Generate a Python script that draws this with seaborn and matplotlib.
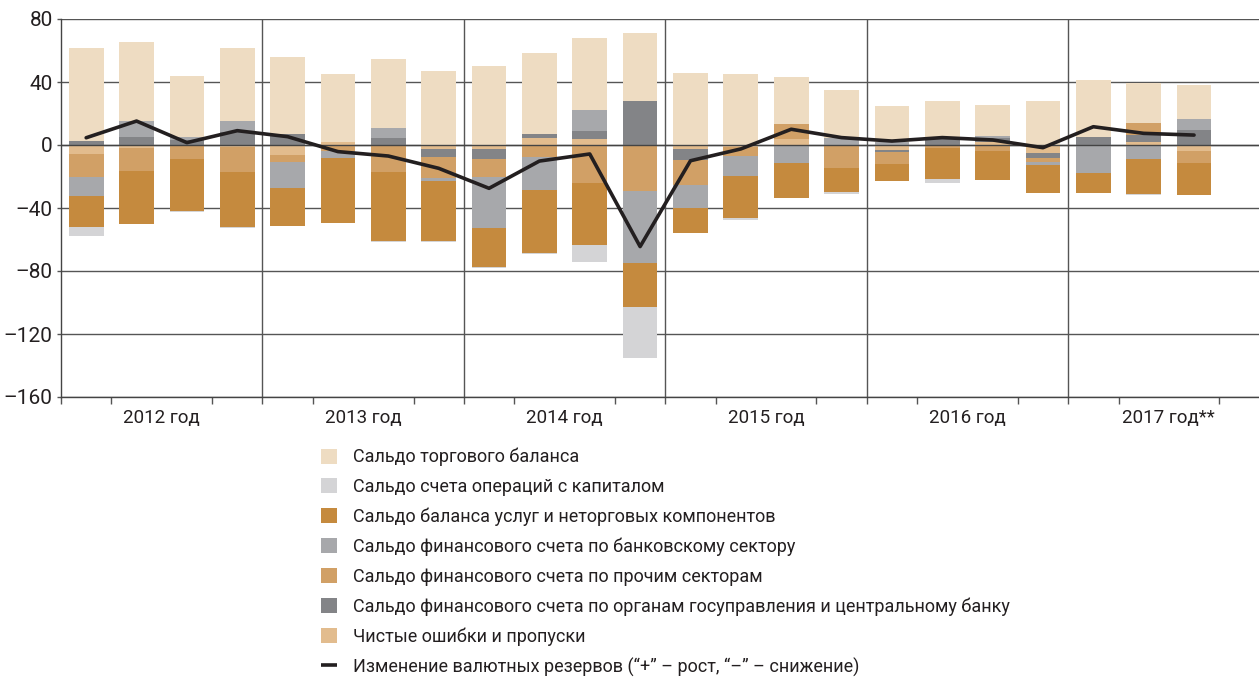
import matplotlib
matplotlib.use("Agg")
import matplotlib.pyplot as plt
from matplotlib.patches import Patch
from matplotlib.lines import Line2D
import numpy as np
import pandas as pd
import seaborn as sns

# quarters 2012 Q1 ... 2017 Q3, billions of US dollars
years = ["2012 год", "2013 год", "2014 год", "2015 год", "2016 год", "2017 год**"]
quarters = list(range(23))

trade = [59.3, 49.9, 38.8, 46.6, 49.1, 43.3, 44.0, 46.8, 50.4, 51.4, 45.9, 43.0,
         45.9, 45.1, 29.7, 30.7, 22.7, 22.6, 19.5, 27.9, 36.0, 25.8, 21.6]
capital = [-5.7, 0, -0.8, -0.8, 0, 0, -0.8, -0.8, -0.8, -0.6, -10.6, -32.3,
           0, -0.9, 0, -1.0, 0, -2.1, 0, 0, 0, -0.9, 0]
services = [-19.5, -33.9, -32.6, -35.0, -23.9, -41.3, -43.9, -38.1, -24.3, -39.8, -39.6, -28.0,
            -15.9, -27.1, -21.8, -15.6, -10.3, -19.7, -18.6, -17.6, -12.7, -22.2, -20.1]
bank = [-12.3, 10.4, 2.0, 6.7, -16.5, -4.4, 6.4, -2.2, -32.8, -21.2, 13.3, -45.5,
        -14.8, -12.7, -11.6, 4.2, 2.1, 0, 1.7, -2.1, -17.6, -8.9, 7.0]
other = [-14.2, -14.4, -9.1, -15.4, -4.5, -3.6, -17.1, -13.1, -11.2, -7.4, -23.9, -29.2,
         -15.9, -5.8, 9.7, -14.4, -7.6, -2.1, -3.8, -2.6, 0, 7.5, -7.8]
gov = [2.5, 5.1, 3.0, 8.5, 7.0, 0, 4.2, -4.8, -6.1, 2.1, 5.3, 27.9,
       -6.7, 0, 0, 0, -1.5, 5.3, 2.5, -2.7, 5.3, 4.2, 9.5]
errors = [-5.9, -2.1, 0, -1.5, -6.3, 1.7, 0, -2.8, -2.8, 4.7, 3.6, 0,
          -2.8, -1.0, 3.6, 0, -3.2, 0, 1.7, -5.3, 0, 2.1, -3.8]
reserves = [4.6, 15.2, 1.5, 9.1, 5.3, -4.2, -7.0, -14.8, -27.5, -10.2, -5.7, -64.5,
            -10.0, -2.5, 10.0, 4.7, 2.5, 4.7, 3.2, -1.7, 11.6, 7.4, 6.3]

labels = {
    "trade": "Сальдо торгового баланса",
    "capital": "Сальдо счета операций с капиталом",
    "services": "Сальдо баланса услуг и неторговых компонентов",
    "bank": "Сальдо финансового счета по банковскому сектору",
    "other": "Сальдо финансового счета по прочим секторам",
    "gov": "Сальдо финансового счета по органам госуправления и центральному банку",
    "errors": "Чистые ошибки и пропуски",
}
line_label = "Изменение валютных резервов (“+” – рост, “–” – снижение)"
colors = {
    "trade": "#EEDCC2",
    "capital": "#D4D4D6",
    "services": "#C58A3E",
    "bank": "#A7A8AB",
    "other": "#D1A066",
    "gov": "#838487",
    "errors": "#E2BC8E",
}
legend_order = ["trade", "capital", "services", "bank", "other", "gov", "errors"]
# order of stacking away from zero
stack_order = [("errors", errors), ("gov", gov), ("other", other), ("bank", bank),
               ("services", services), ("capital", capital), ("trade", trade)]

sns.set_theme(style="white")
plt.rcParams["font.family"] = ["Roboto", "DejaVu Sans"]
plt.rcParams["text.color"] = "#231f20"

fig = plt.figure(figsize=(12.59, 6.78), dpi=100)
ax = fig.add_axes([61 / 1259, 1 - 397 / 678, 1 - 61 / 1259, (397 - 19) / 678])

pos = np.zeros(len(quarters))
neg = np.zeros(len(quarters))
for name, vals in stack_order:
    v = np.array(vals, dtype=float)
    bottom = np.where(v >= 0, pos, neg)
    df = pd.DataFrame({"q": quarters, "v": v})
    sns.barplot(data=df, x="q", y="v", bottom=bottom, color=colors[name], width=0.69,
                linewidth=0, saturation=1, errorbar=None, ax=ax, zorder=2)
    pos += np.where(v > 0, v, 0)
    neg += np.where(v < 0, v, 0)

sns.lineplot(x=quarters, y=reserves, color="#231f20", lw=2.6, ax=ax, zorder=5)

ax.axhline(0, color="#444444", lw=1, zorder=3)
for b in [3.5, 7.5, 11.5, 15.5, 19.5]:
    ax.axvline(b, color="#555555", lw=1, zorder=1)

ax.set_xlim(-0.5, 23.29)
ax.set_ylim(-160, 80)
ax.set_yticks(range(-160, 81, 40))
ax.set_yticklabels([str(t).replace("-", "–") for t in range(-160, 81, 40)], fontsize=15)
ax.set_xticks([1.5, 5.5, 9.5, 13.5, 17.5, 21.5])
ax.set_xticklabels(years, fontsize=13.5)
ax.set_xticks(np.arange(-0.5, 23.0, 1), minor=True)
ax.tick_params(axis="x", which="major", length=0, pad=9, colors="#231f20")
ax.tick_params(axis="x", which="minor", length=5, width=1, direction="out", color="#555555", bottom=True)
ax.tick_params(axis="y", length=3, width=1, direction="out", color="#555555", pad=3, left=True, colors="#231f20")
ax.set_xlabel("")
ax.set_ylabel("")
ax.grid(axis="y", color="#555555", lw=1)
ax.set_axisbelow(True)
for s in ["top", "right"]:
    ax.spines[s].set_visible(False)
for s in ["left", "bottom"]:
    ax.spines[s].set_color("#444444")
    ax.spines[s].set_linewidth(1)

handles = [Patch(facecolor=colors[k], edgecolor="none") for k in legend_order]
handles.append(Line2D([0], [0], color="#231f20", marker="_", markersize=11,
                      markeredgewidth=2.6, linestyle="None"))
fig.legend(handles, [labels[k] for k in legend_order] + [line_label],
           loc="upper left", bbox_to_anchor=(321 / 1259, 1 - 448 / 678),
           frameon=False, fontsize=13, handlelength=0.9, handleheight=0.9,
           handletextpad=0.85, labelspacing=0.64, borderpad=0, borderaxespad=0)

fig.savefig("out.png", dpi=100)
